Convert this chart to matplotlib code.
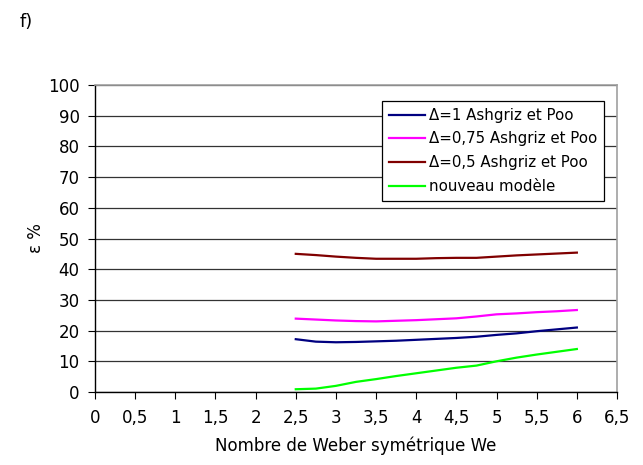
import matplotlib
matplotlib.use("Agg")
import matplotlib.pyplot as plt

we = [2.5, 2.75, 3, 3.25, 3.5, 3.75, 4, 4.25, 4.5, 4.75, 5, 5.25, 5.5, 5.75, 6]
delta_1 = [17.2, 16.4, 16.2, 16.3, 16.5, 16.7, 17.0, 17.3, 17.6, 18.0, 18.6, 19.1, 19.8, 20.4, 21.0]
delta_075 = [23.9, 23.6, 23.3, 23.1, 23.0, 23.2, 23.4, 23.7, 24.0, 24.6, 25.3, 25.6, 26.0, 26.3, 26.7]
delta_05 = [45.0, 44.6, 44.1, 43.7, 43.4, 43.4, 43.4, 43.6, 43.7, 43.7, 44.1, 44.5, 44.8, 45.1, 45.4]
nouveau = [0.9, 1.1, 2.0, 3.3, 4.2, 5.2, 6.1, 7.0, 7.9, 8.6, 10.0, 11.2, 12.2, 13.1, 14.0]

labels = ["Δ=1 Ashgriz et Poo", "Δ=0,75 Ashgriz et Poo", "Δ=0,5 Ashgriz et Poo", "nouveau modèle"]
colors = ["#000080", "#FF00FF", "#800000", "#00FF00"]

x_ticks = [0, 0.5, 1, 1.5, 2, 2.5, 3, 3.5, 4, 4.5, 5, 5.5, 6, 6.5]
y_ticks = [0, 10, 20, 30, 40, 50, 60, 70, 80, 90, 100]

plt.rcParams['font.family'] = ['DejaVu Sans']

fig = plt.figure(figsize=(6.43, 4.65), dpi=100)
ax = fig.add_axes([95/643, 1-392/465, (617-95)/643, (392-85)/465])

for ys, lab, c in zip([delta_1, delta_075, delta_05, nouveau], labels, colors):
    ax.plot(we, ys, color=c, lw=1.6, label=lab)

ax.set_xlim(0, 6.5)
ax.set_ylim(0, 100)
ax.set_xticks(x_ticks)
ax.set_xticklabels([("%g" % v).replace(".", ",") for v in x_ticks])
ax.set_yticks(y_ticks)
ax.set_yticklabels([str(v) for v in y_ticks])
ax.yaxis.grid(True, color="#333333", lw=0.9)
ax.set_axisbelow(True)
ax.tick_params(axis="both", labelsize=12, direction="out", length=5, color="black", pad=6)
ax.tick_params(axis="x", pad=7)
for s in ["top", "right"]:
    ax.spines[s].set_color("#a0a0a0")
    ax.spines[s].set_linewidth(1.2)
for s in ["left", "bottom"]:
    ax.spines[s].set_color("black")
    ax.spines[s].set_linewidth(1.0)

ax.set_xlabel("Nombre de Weber symétrique We", fontsize=12, labelpad=7)
ax.set_ylabel("ε %", fontsize=12, labelpad=2)

leg = ax.legend(loc="upper left", bbox_to_anchor=((382-95)/522, (392-101)/307),
                fontsize=10.8, frameon=True, fancybox=False, handlelength=2.4,
                handletextpad=0.3, borderpad=0.45, labelspacing=0.58, borderaxespad=0)
leg.get_frame().set_edgecolor("black")
leg.get_frame().set_linewidth(0.9)
leg.get_frame().set_alpha(1)

fig.text(20/643, 1-22/465, "f)", fontsize=13, va="center", ha="left")

fig.savefig("out.png", dpi=100)
